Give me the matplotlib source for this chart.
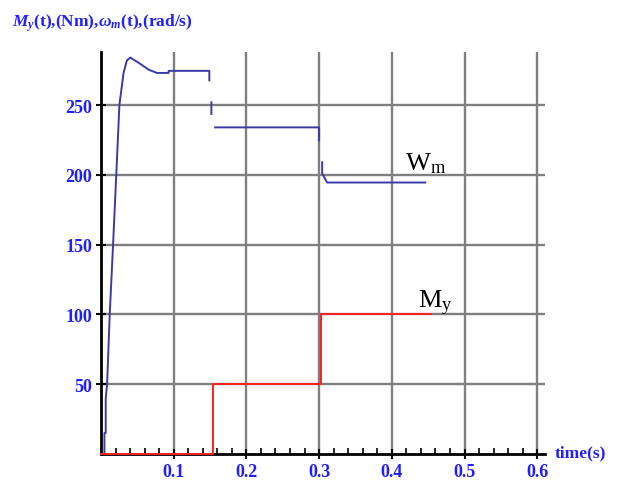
#!/usr/bin/env python3

import matplotlib
matplotlib.use("Agg")
import matplotlib.pyplot as plt
import numpy as np
from matplotlib.ticker import MultipleLocator

# speed w_m(t), rad/s (breaks where the plotted line fades on fast drops)
t_w = [0.0, 0.0047, 0.0047, 0.0065, 0.0065, 0.0084, 0.012, 0.0166, 0.021, 0.0253,
       0.031, 0.0356, 0.0404, 0.054, 0.0656, 0.077, 0.093, 0.093, 0.149,
       0.149, np.nan, 0.1518, 0.1518, np.nan, 0.157, 0.30, 0.30, np.nan,
       0.3042, 0.3042, 0.311, 0.446]
w_m = [0.0, 0.0, 15, 15, 40, 50, 100, 150, 200, 250,
       273, 282, 284, 279.5, 275.3, 273, 273, 274.5, 274.5,
       267.7, np.nan, 252, 243.6, np.nan, 234, 234, 224.7, np.nan,
       209, 201, 194.5, 194.5]

# load torque M_y(t), Nm
t_m = [0.0, 0.1546, 0.1546, 0.302, 0.302, 0.4545]
m_y = [0, 0, 50, 50, 100, 100]

x_ticks = [0.1, 0.2, 0.3, 0.4, 0.5, 0.6]
y_ticks = [50, 100, 150, 200, 250]

plt.rcParams['mathtext.fontset'] = 'custom'
plt.rcParams['mathtext.rm'] = 'Liberation Serif:bold'
plt.rcParams['mathtext.it'] = 'Liberation Serif:italic:bold'
plt.rcParams['mathtext.bf'] = 'Liberation Serif:bold'

blue_txt = '#2020ff'
fig = plt.figure(figsize=(6.22, 4.89), dpi=100)
ax = fig.add_axes([101 / 622, 34 / 489, 443.5 / 622, 402 / 489])

ax.plot(t_w, w_m, color='#3a3aa8', lw=1.4, zorder=3, clip_on=False)
ax.plot(t_m, m_y, color='#ff2020', lw=1.4, zorder=3, clip_on=False)

ax.set_xlim(0, 0.61)
ax.set_ylim(0, 288)
ax.set_xticks(x_ticks)
ax.set_yticks(y_ticks)
ax.xaxis.set_minor_locator(MultipleLocator(0.02))
ax.grid(True, color='#7f7f7f', lw=1.7)
ax.set_axisbelow(True)

for s in ['top', 'right']:
    ax.spines[s].set_visible(False)
for s in ['left', 'bottom']:
    ax.spines[s].set_linewidth(2)
    ax.spines[s].set_color('black')

ax.tick_params(axis='both', which='major', direction='inout', length=7, width=1.5,
               labelcolor=blue_txt, labelsize=13, pad=3)
ax.tick_params(axis='x', which='minor', direction='in', length=4, width=1.2)
for lab in ax.get_xticklabels() + ax.get_yticklabels():
    lab.set_fontfamily('Liberation Serif')
    lab.set_fontweight('bold')

fig.text(12 / 622, 1 - 27 / 489, r'$M_y$(t),(Nm),$\omega_m$(t),(rad/s)',
         color=blue_txt, fontsize=12.5, fontfamily='Liberation Serif',
         fontweight='bold', ha='left', va='baseline')
fig.text(555 / 622, 1 - 453 / 489, 'time(s)', color=blue_txt, fontsize=12.5,
         fontfamily='Liberation Serif', fontweight='bold', ha='left', va='center')

ax.text(0.418, 204, r'W$_\mathregular{m}$', fontsize=19, fontfamily='Liberation Serif',
        color='black', ha='left', va='baseline')
ax.text(0.436, 105, r'M$_\mathregular{y}$', fontsize=19, fontfamily='Liberation Serif',
        color='black', ha='left', va='baseline')

fig.savefig('out.png', dpi=100)
